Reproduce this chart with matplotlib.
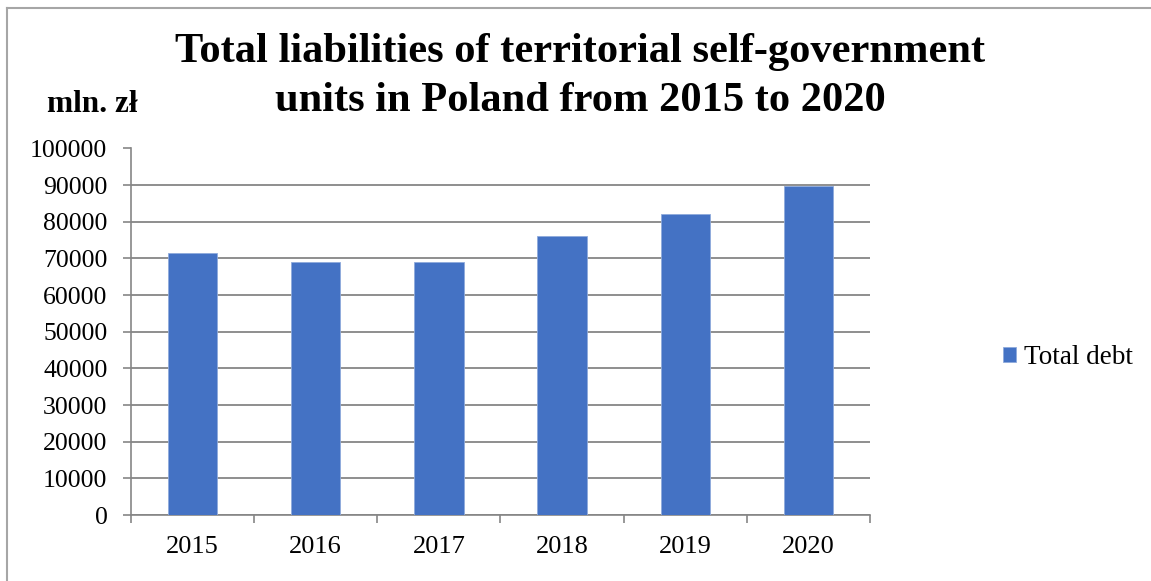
import matplotlib.pyplot as plt
from matplotlib.lines import Line2D

years = ['2015', '2016', '2017', '2018', '2019', '2020']
total_debt = [71600, 69000, 68900, 76100, 82000, 89900]

plt.rcParams['font.family'] = ['Liberation Serif', 'DejaVu Serif']

fig = plt.figure(figsize=(11.51, 5.81), dpi=100)
ax = fig.add_axes([131 / 1151, 1 - 515 / 581, 739 / 1151, 366.5 / 581])

grid_c = '#868686'
bars = ax.bar(range(len(years)), total_debt, width=0.4, color='#4472C4',
              edgecolor='#8FAADC', linewidth=0.6, label='Total debt', zorder=3)

ax.set_xlim(-0.5, len(years) - 0.5)
ax.set_ylim(0, 100000)
ax.set_yticks(range(0, 100001, 10000))
ax.yaxis.grid(True, color=grid_c, linewidth=1.3, zorder=0)

ax.set_xticks(range(len(years)))
ax.set_xticklabels(years, fontsize=19)
ax.set_xticks([i - 0.5 for i in range(len(years) + 1)], minor=True)
ax.tick_params(axis='x', which='major', length=0, pad=15)
ax.tick_params(axis='x', which='minor', length=6, color=grid_c, width=1.2)
ax.tick_params(axis='y', length=6, color=grid_c, width=1.2, labelsize=18.5, pad=11)

for s in ['top', 'right']:
    ax.spines[s].set_visible(False)
for s in ['left', 'bottom']:
    ax.spines[s].set_color(grid_c)
    ax.spines[s].set_linewidth(1.2)

fig.text(580 / 1151, 1 - 52 / 581,
         'Total liabilities of territorial self-government',
         ha='center', va='center', fontsize=30.6, fontweight='bold')
fig.text(580 / 1151, 1 - 101 / 581,
         'units in Poland from 2015 to 2020',
         ha='center', va='center', fontsize=30.6, fontweight='bold')
fig.text(47 / 1151, 1 - 105 / 581, 'mln. zł', ha='left', va='center',
         fontsize=22.5, fontweight='bold')

fig.legend(handles=[bars], loc='center left', bbox_to_anchor=(1003 / 1151, 1 - 358 / 581),
           frameon=False, fontsize=19.5, handlelength=0.48, handleheight=0.48,
           handletextpad=0.28, borderpad=0, borderaxespad=0)

# outer frame, only the top and left edges
frame_kw = dict(transform=fig.transFigure, color='#A6A6A6', linewidth=1.5)
fig.lines.append(Line2D([7.5 / 1151, 1], [1 - 7.5 / 581, 1 - 7.5 / 581], **frame_kw))
fig.lines.append(Line2D([7.5 / 1151, 7.5 / 1151], [0, 1 - 7.5 / 581], **frame_kw))

fig.savefig('out.png', dpi=100)
